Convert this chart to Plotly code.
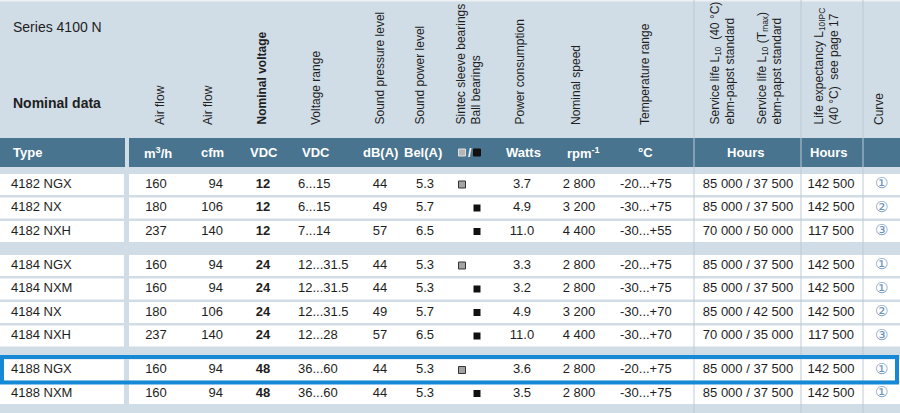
import plotly.graph_objects as go

# Series 4100 N - nominal data table (ebm-papst catalogue page)

types = ["4182 NGX", "4182 NX", "4182 NXH", "4184 NGX", "4184 NXM",
         "4184 NX", "4184 NXH", "4188 NGX", "4188 NXM"]
airflow_m3h = [160, 180, 237, 160, 160, 180, 237, 160, 160]
airflow_cfm = [94, 106, 140, 94, 94, 106, 140, 94, 94]
nominal_vdc = [12, 12, 12, 24, 24, 24, 24, 48, 48]
voltage_range = ["6...15", "6...15", "7...14", "12...31.5", "12...31.5",
                 "12...31.5", "12...28", "36...60", "36...60"]
sound_pressure = [44, 49, 57, 44, 44, 49, 57, 44, 44]
sound_power = [5.3, 5.7, 6.5, 5.3, 5.3, 5.7, 6.5, 5.3, 5.3]
bearings = ["sleeve", "ball", "ball", "sleeve", "ball", "ball", "ball", "sleeve", "ball"]
power_w = [3.7, 4.9, 11.0, 3.3, 3.2, 4.9, 11.0, 3.6, 3.5]
speed_rpm = [2800, 3200, 4400, 2800, 2800, 3200, 4400, 2800, 2800]
temp_range = ["-20...+75", "-30...+75", "-30...+55", "-20...+75", "-30...+75",
              "-30...+70", "-30...+70", "-20...+75", "-30...+75"]
life_40c = [85000, 85000, 70000, 85000, 85000, 85000, 70000, 85000, 85000]
life_tmax = [37500, 37500, 50000, 37500, 37500, 42500, 35000, 37500, 37500]
life_expectancy = [142500, 142500, 117500, 142500, 142500, 142500, 117500, 142500, 142500]
curve = [1, 2, 3, 1, 1, 2, 3, 1, 1]
highlighted = "4188 NGX"

header_titles = [
    "Air flow", "Air flow", "<b>Nominal voltage</b>", "Voltage range",
    "Sound pressure level", "Sound power level",
    "Sintec sleeve bearings<br>Ball bearings", "Power consumption",
    "Nominal speed", "Temperature range",
    "Service life L<sub>10</sub>  (40 °C)<br>ebm-papst standard",
    "Service life L<sub>10</sub> (T<sub>max</sub>)<br>ebm-papst standard",
    "Life expectancy L<sub>10IPC</sub><br>(40 °C)  see page 17", "Curve",
]
units = ["m<sup>3</sup>/h", "cfm", "VDC", "VDC", "dB(A)", "Bel(A)", "",
         "Watts", "rpm<sup>-1</sup>", "°C", "Hours", "Hours", ""]

BG = "#d0dce6"
BAND = "#48748f"
LINE = "#bccad6"
TEXT = "#1e1e1e"
FONT = "Liberation Sans, Arial, sans-serif"

# layout helpers (pixel space, y pointing down)
header_x = [160, 208, 261, 316, 379, 419, 468, 519, 576, 645, 722, 769, 826, 879]
unit_x = [158, 212, 264, 316, 380, 423, 470, 523, 583, 645, 746, 829, 881]
dividers = [694, 801, 863]


def thousands(v):
    return f"{v:,}".replace(",", " ")


groups = []
g = 0
for i, t in enumerate(types):
    if i and t.split()[0] != types[i - 1].split()[0]:
        g += 1
    groups.append(g)
row_top = [174 + i * 23.5 + gi * 10.5 for i, gi in enumerate(groups)]
row_h = 21
row_mid = [t + row_h / 2 for t in row_top]

fig = go.Figure()
shapes = []

# header band
shapes.append(dict(type="rect", x0=0, x1=125, y0=138, y1=167, fillcolor=BAND, line_width=0, layer="below"))
shapes.append(dict(type="rect", x0=129, x1=900, y0=138, y1=167, fillcolor=BAND, line_width=0, layer="below"))
shapes.append(dict(type="line", x0=0, x1=900, y0=0.8, y1=0.8, line=dict(color="#edf1f4", width=1.5), layer="below"))

# white rows
for top in row_top:
    shapes.append(dict(type="rect", x0=0, x1=124, y0=top, y1=top + row_h, fillcolor="white", line_width=0, layer="below"))
    shapes.append(dict(type="rect", x0=129, x1=900, y0=top, y1=top + row_h, fillcolor="white", line_width=0, layer="below"))

for dx in dividers:
    shapes.append(dict(type="line", x0=dx, x1=dx, y0=0, y1=413, line=dict(color=LINE, width=1), layer="below"))

# highlighted row
hi = types.index(highlighted)
shapes.append(dict(type="rect", x0=2, x1=897, y0=row_top[hi] - 2.5, y1=row_top[hi] + row_h + 2,
                   line=dict(color="#1689d6", width=4), fillcolor="rgba(0,0,0,0)", layer="above"))


def column(x, values, pos="middle center", color=TEXT, size=13):
    fig.add_trace(go.Scatter(
        x=[x] * len(values), y=row_mid, text=values, mode="text",
        textposition=pos, textfont=dict(family=FONT, size=size, color=color),
        hoverinfo="skip", cliponaxis=False, showlegend=False,
    ))


column(11, types, "middle right")
column(156, [str(v) for v in airflow_m3h])
column(223, [str(v) for v in airflow_cfm], "middle left")
column(263, [f"<b>{v}</b>" for v in nominal_vdc])
column(298, voltage_range, "middle right")
column(380, [str(v) for v in sound_pressure])
column(425, [f"{v:.1f}" for v in sound_power])
column(522, [f"{v:.1f}" for v in power_w])
column(579, [thousands(v) for v in speed_rpm])
column(620, temp_range, "middle right")
column(748, [f"{thousands(a)} / {thousands(b)}" for a, b in zip(life_40c, life_tmax)])
column(831, [thousands(v) for v in life_expectancy])
column(881, ["①②③"[c - 1] for c in curve], color="#6c92bb", size=15)

# bearing symbols
sleeve_y = [y for y, b in zip(row_mid, bearings) if b == "sleeve"]
ball_y = [y for y, b in zip(row_mid, bearings) if b == "ball"]
fig.add_trace(go.Scatter(x=[462] * len(sleeve_y), y=sleeve_y, mode="markers",
                         marker=dict(symbol="square", size=7, color="#a3a3a3", line=dict(color="#333", width=1)),
                         hoverinfo="skip", showlegend=False, cliponaxis=False))
fig.add_trace(go.Scatter(x=[477] * len(ball_y), y=ball_y, mode="markers",
                         marker=dict(symbol="square", size=7, color="#111"),
                         hoverinfo="skip", showlegend=False, cliponaxis=False))
# legend symbols in the band
fig.add_trace(go.Scatter(x=[462, 477], y=[152.5, 152.5], mode="markers",
                         marker=dict(symbol="square", size=7, color=["#b5b5b5", "#111"],
                                     line=dict(color=["#e0e0e0", "#111"], width=1)),
                         hoverinfo="skip", showlegend=False, cliponaxis=False))

annotations = [
    dict(x=11, y=27, text="Series 4100 N", xanchor="left", yanchor="middle",
         font=dict(family=FONT, size=14, color=TEXT)),
    dict(x=11, y=103, text="<b>Nominal data</b>", xanchor="left", yanchor="middle",
         font=dict(family=FONT, size=14, color=TEXT)),
    dict(x=11, y=152.5, text="<b>Type</b>", xanchor="left", yanchor="middle",
         font=dict(family=FONT, size=13, color="white")),
    dict(x=470, y=152.5, text="<b>/</b>", xanchor="center", yanchor="middle",
         font=dict(family=FONT, size=12, color="white")),
]
for x, t in zip(header_x, header_titles):
    annotations.append(dict(x=x, y=127, text=t, textangle=-90, xanchor="center", yanchor="bottom",
                            align="left", font=dict(family=FONT, size=12, color=TEXT)))
for x, u in zip(unit_x, units):
    if u:
        annotations.append(dict(x=x, y=152.5, text=f"<b>{u}</b>", xanchor="center", yanchor="middle",
                                font=dict(family=FONT, size=13, color="white")))
for a in annotations:
    a.update(xref="x", yref="y", showarrow=False)

fig.update_layout(
    width=900, height=413,
    margin=dict(l=0, r=0, t=0, b=0),
    paper_bgcolor=BG, plot_bgcolor=BG,
    xaxis=dict(range=[0, 900], visible=False, fixedrange=True),
    yaxis=dict(range=[413, 0], visible=False, fixedrange=True),
    shapes=shapes, annotations=annotations,
    showlegend=False,
)
# drop the default page margin so the 900x413 figure fills the window exactly
fig.write_html("out.html", config={"displayModeBar": False},
               post_script="document.body.style.margin='0';")
